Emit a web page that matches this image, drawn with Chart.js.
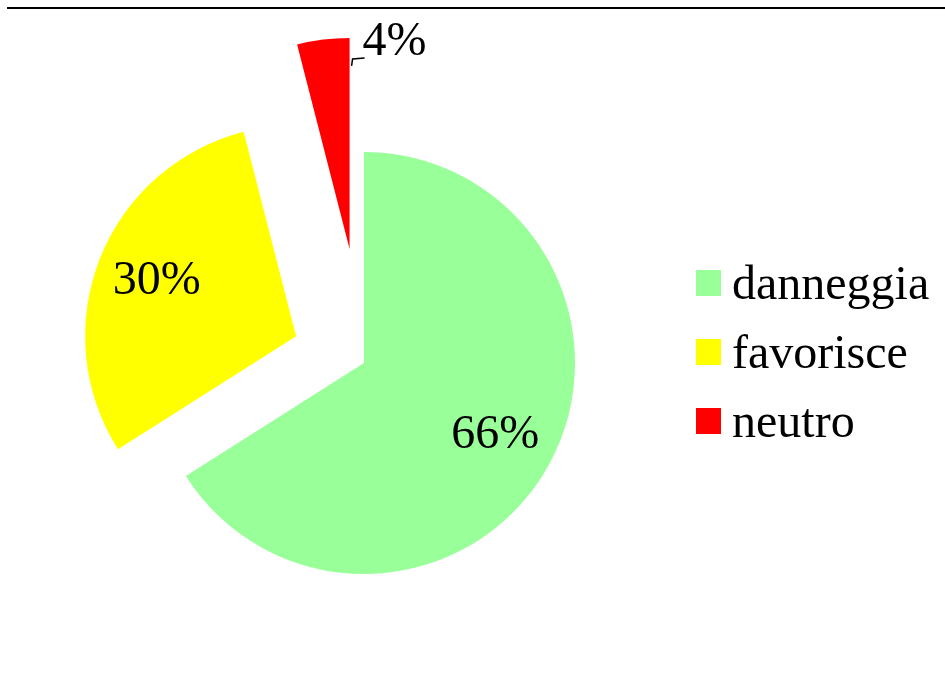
<!DOCTYPE html>
<html>
<head>
<meta charset="utf-8">
<script src="https://cdn.jsdelivr.net/npm/chart.js@4/dist/chart.umd.min.js"></script>
<style>
  html, body { margin: 0; padding: 0; background: #fff; }
  #wrap { position: absolute; left: 0; top: 0; width: 945px; height: 693px; }
  #riga { position: absolute; left: 7px; top: 7px; width: 938px; height: 0; border-top: 2px solid #000; }
</style>
</head>
<body>
<div id="wrap"><canvas id="torta" width="945" height="693"></canvas></div>
<div id="riga"></div>
<script>
const etichette = ["danneggia", "favorisce", "neutro"];
const percentuali = [66, 30, 4];
const colori = ["#99ff99", "#ffff00", "#ff0000"];

const FONT = '48px "Liberation Serif", "Times New Roman", serif';

// torta con fette staccate di una distanza fissa in px lungo la bisettrice
// (l'offset nativo allunga anche il raggio delle fette piccole)
class TortaEsplosa extends Chart.PieController {
  draw() {
    const ctx = this.chart.ctx;
    const stacco = this.getDataset().stacco || [];
    this._cachedMeta.data.forEach((arc, i) => {
      const half = (arc.startAngle + arc.endAngle) / 2;
      const d = stacco[i] || 0;
      ctx.save();
      ctx.translate(Math.cos(half) * d, Math.sin(half) * d);
      arc.draw(ctx);
      ctx.restore();
    });
  }
}
TortaEsplosa.id = "tortaEsplosa";
Chart.register(TortaEsplosa);

function centroFetta(chart, arc, i) {
  const d = (chart.data.datasets[0].stacco || [])[i] || 0;
  const half = (arc.startAngle + arc.endAngle) / 2;
  return { x: arc.x + Math.cos(half) * d, y: arc.y + Math.sin(half) * d, half: half };
}

const percentualiPlugin = {
  id: "percentuali",
  afterDatasetsDraw(chart) {
    const ctx = chart.ctx;
    const meta = chart.getDatasetMeta(0);
    ctx.save();
    ctx.font = FONT;
    ctx.fillStyle = "#000";
    meta.data.forEach((arc, i) => {
      const c = centroFetta(chart, arc, i);
      const R = arc.outerRadius;
      const testo = percentuali[i] + "%";
      if (percentuali[i] >= 10) {
        ctx.textAlign = "center";
        ctx.textBaseline = "middle";
        ctx.fillText(testo, c.x + Math.cos(c.half) * R * 0.71, c.y + Math.sin(c.half) * R * 0.71);
      } else {
        // fetta piccola: etichetta fuori, con trattino di richiamo
        const ex = c.x + Math.cos(arc.endAngle) * R;
        const ey = c.y + Math.sin(arc.endAngle) * R;
        ctx.strokeStyle = "#000";
        ctx.lineWidth = 1.5;
        ctx.beginPath();
        ctx.moveTo(ex + 2, ey + 28);
        ctx.lineTo(ex + 3, ey + 21);
        ctx.lineTo(ex + 15, ey + 20);
        ctx.stroke();
        ctx.textAlign = "left";
        ctx.textBaseline = "middle";
        ctx.fillText(testo, ex + 13, ey + 4);
      }
    });
    ctx.restore();
  }
};

const legendaPlugin = {
  id: "legenda",
  afterDraw(chart) {
    const ctx = chart.ctx;
    const ds = chart.data.datasets[0];
    ctx.save();
    ctx.font = FONT;
    ctx.textAlign = "left";
    ctx.textBaseline = "alphabetic";
    chart.data.labels.forEach((lab, i) => {
      const cy = 283 + i * 69;
      ctx.fillStyle = ds.backgroundColor[i];
      ctx.fillRect(696, cy - 13, 25, 26);
      ctx.fillStyle = "#000";
      ctx.fillText(lab, 732, cy + 16);
    });
    ctx.restore();
  }
};

new Chart(document.getElementById("torta"), {
  type: "tortaEsplosa",
  data: {
    labels: etichette,
    datasets: [{
      data: percentuali,
      backgroundColor: colori,
      borderWidth: 0,
      stacco: [0, 73, 115],
      hoverOffset: 0
    }]
  },
  options: {
    responsive: false,
    animation: false,
    radius: 211,
    layout: { padding: { left: 0, right: 217, top: 33, bottom: 0 } },
    plugins: {
      legend: { display: false },
      tooltip: { enabled: false }
    }
  },
  plugins: [percentualiPlugin, legendaPlugin]
});
</script>
</body>
</html>
